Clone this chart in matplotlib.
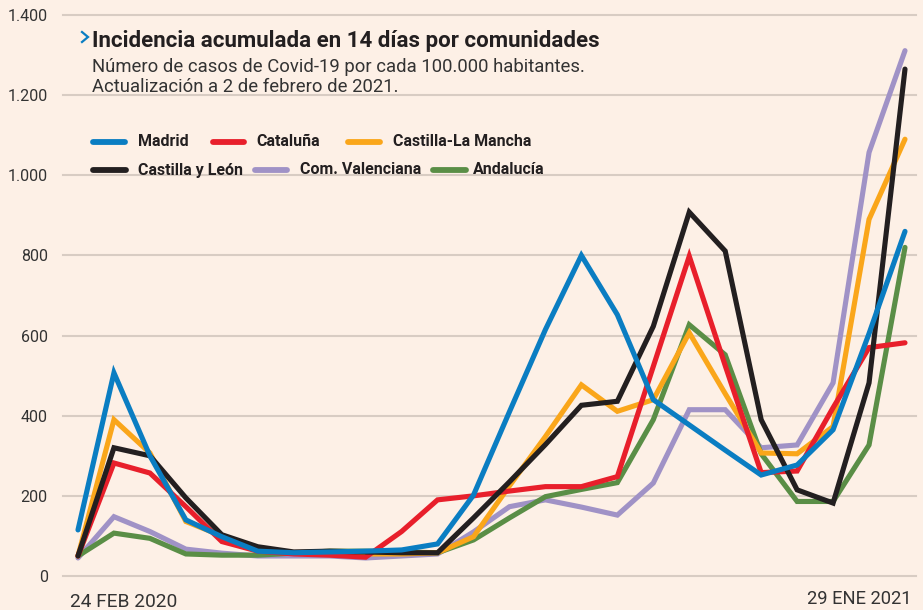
import matplotlib
matplotlib.use("Agg")
import matplotlib.pyplot as plt
from matplotlib import font_manager
from matplotlib.lines import Line2D

# ---------------- data ----------------
first_label = "24 FEB 2020"
last_label = "29 ENE 2021"
n_points = 24

madrid = [115, 507, 300, 140, 98, 62, 58, 60, 62, 65, 80, 202, 410, 615, 800, 652,
          440, 377, 314, 252, 277, 365, 605, 860]
cataluna = [50, 282, 257, 173, 86, 62, 55, 52, 47, 111, 190, 200, 212, 223, 223, 248,
            523, 798, 525, 258, 262, 420, 570, 582]
clm = [50, 390, 307, 136, 100, 65, 58, 58, 55, 55, 58, 98, 225, 348, 477, 411,
       440, 607, 455, 307, 305, 373, 890, 1090]
cyl = [50, 320, 300, 195, 103, 73, 60, 62, 60, 58, 58, 145, 235, 328, 426, 436,
       623, 908, 811, 390, 215, 182, 482, 1265]
valenciana = [45, 148, 111, 67, 57, 50, 50, 50, 45, 50, 55, 110, 173, 190, 172, 152,
              232, 415, 415, 320, 327, 482, 1057, 1311]
andalucia = [50, 107, 94, 55, 52, 52, 57, 62, 62, 60, 58, 90, 145, 198, 216, 233,
             390, 627, 552, 305, 186, 186, 327, 820]

series_names = ["Madrid", "Cataluña", "Castilla-La Mancha",
                "Castilla y León", "Com. Valenciana", "Andalucía"]
yticks = [0, 200, 400, 600, 800, 1000, 1200, 1400]
ytick_labels = ["0", "200", "400", "600", "800", "1.000", "1.200", "1.400"]

title = "Incidencia acumulada en 14 días por comunidades"
subtitle1 = "Número de casos de Covid-19 por cada 100.000 habitantes."
subtitle2 = "Actualización a 2 de febrero de 2021."

# ---------------- style ----------------
BG = "#fdf0e6"
GRID = "#d8ccc3"
TXT = "#231f20"
colors = {
    "Madrid": "#0a7dc2",
    "Cataluña": "#e81f2b",
    "Castilla-La Mancha": "#faa61a",
    "Castilla y León": "#231f20",
    "Com. Valenciana": "#a092c6",
    "Andalucía": "#5a8e46",
}
values = {
    "Madrid": madrid, "Cataluña": cataluna, "Castilla-La Mancha": clm,
    "Castilla y León": cyl, "Com. Valenciana": valenciana, "Andalucía": andalucia,
}
draw_order = ["Com. Valenciana", "Andalucía", "Castilla-La Mancha",
              "Cataluña", "Castilla y León", "Madrid"]

names = {f.name for f in font_manager.fontManager.ttflist}
NARROW = "Liberation Sans Narrow" if "Liberation Sans Narrow" in names else "Roboto"
REG = "Roboto" if "Roboto" in names else "DejaVu Sans"

W, H = 923, 610
fig = plt.figure(figsize=(W / 100, H / 100), dpi=100, facecolor=BG)


def fx(px):
    return px / W


def fy(py):
    return 1 - py / H


ax = fig.add_axes([fx(63), fy(576), fx(916) - fx(63), fy(15) - fy(576)])
ax.set_facecolor(BG)
x = list(range(n_points))
for name in draw_order:
    ax.plot(x, values[name], color=colors[name], lw=3.7,
            solid_capstyle="round", solid_joinstyle="miter", clip_on=False, zorder=3)

ax.set_xlim(-0.417, n_points - 1 + 0.306)
ax.set_ylim(0, 1400)
ax.set_yticks(yticks)
ax.set_yticklabels(ytick_labels, fontfamily=REG)
ax.tick_params(axis="y", length=0, pad=11, labelsize=11.5, labelcolor="#333333")
ax.set_xticks([])
for s in ax.spines.values():
    s.set_visible(False)
for yv in yticks:
    ax.axhline(yv, color=GRID, lw=1.5, zorder=1, clip_on=False)

renderer = fig.canvas.get_renderer()


def fit_text(px, py, s, target_w, size, **kw):
    t = fig.text(fx(px), fy(py), s, fontsize=size, **kw)
    bb = t.get_window_extent(renderer=renderer)
    if bb.width > 0:
        t.set_fontsize(size * target_w / bb.width)
    return t


# title block
chev = Line2D([fx(82), fx(88), fx(82)], [fy(32), fy(37), fy(42)],
              transform=fig.transFigure, color="#0a7dc2", lw=1.6,
              solid_joinstyle="miter")
fig.add_artist(chev)
fit_text(92, 47, title, 506, 16.5, fontfamily=NARROW, fontweight="bold",
         color=TXT, va="baseline", ha="left")
t1 = fit_text(92, 72, subtitle1, 494, 11.5, fontfamily=REG, color="#333333",
              va="baseline", ha="left")
fig.text(fx(92), fy(92), subtitle2, fontsize=t1.get_fontsize(), fontfamily=REG,
         color="#333333", va="baseline", ha="left")

# legend
leg_pos = [
    ("Madrid", 93, 125, 138, 142),
    ("Cataluña", 213, 244, 256, 142),
    ("Castilla-La Mancha", 348, 380, 393, 142),
    ("Castilla y León", 93, 126, 138, 170),
    ("Com. Valenciana", 255, 287, 300, 170),
    ("Andalucía", 433, 466, 473, 170),
]
probe = fig.text(0, 0, "Castilla-La Mancha", fontsize=11.5, fontfamily=NARROW,
                 fontweight="bold")
bw = probe.get_window_extent(renderer=renderer).width
probe.remove()
leg_size = 11.5 * 139 / bw
for name, l0, l1, tx, ly in leg_pos:
    fig.add_artist(Line2D([fx(l0), fx(l1)], [fy(ly), fy(ly)], transform=fig.transFigure,
                          color=colors[name], lw=4.2, solid_capstyle="round"))
    fig.text(fx(tx), fy(ly), name, fontsize=leg_size, fontfamily=NARROW,
             fontweight="bold", color=TXT, va="center", ha="left")

# x labels
fit_text(70, 607, first_label, 107, 12, fontfamily=REG, color="#333333",
         va="baseline", ha="left")
fit_text(912, 604, last_label, 105, 12, fontfamily=REG, color="#333333",
         va="baseline", ha="right")

fig.savefig("out.png", dpi=100, facecolor=BG)
